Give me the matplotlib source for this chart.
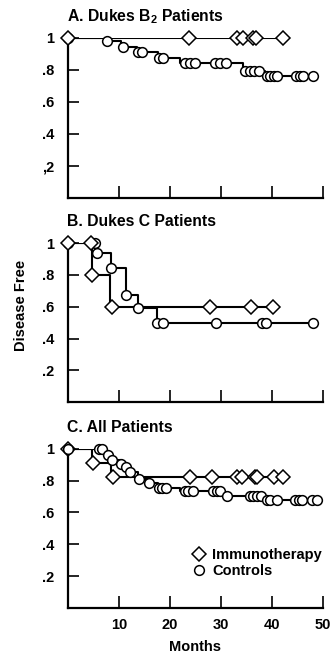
import matplotlib
matplotlib.use("Agg")
import matplotlib.pyplot as plt
from matplotlib.lines import Line2D
import numpy as np

plt.rcParams['font.family'] = ['Liberation Sans', 'DejaVu Sans']
plt.rcParams['mathtext.default'] = 'regular'

# A. Dukes B2
a_imm_drops = []
a_imm_levels = []
a_imm_marks = [0, 23.7, 33.1, 34.3, 36.3, 36.9, 42.2]
a_ctl_drops = [7.5, 10.5, 13.6, 17.6, 22.0, 34.4, 38.7]
a_ctl_levels = [0.98, 0.946, 0.91, 0.873, 0.842, 0.796, 0.765]
a_ctl_marks = [0, 7.6, 10.7, 13.8, 14.6, 17.9, 18.6, 22.9, 23.9, 24.9, 28.8, 29.8, 31.0,
               34.7, 35.7, 36.5, 37.5, 39.0, 39.7, 40.4, 41.0, 44.8, 45.5, 46.1, 48.1]

# B. Dukes C
b_imm_drops = [4.7, 8.3]
b_imm_levels = [0.8, 0.6]
b_imm_marks = [0, 4.5, 4.8, 8.6, 27.8, 35.8, 40.1]
b_ctl_drops = [5.6, 8.4, 11.3, 13.8, 17.5]
b_ctl_levels = [0.935, 0.84, 0.673, 0.59, 0.50]
b_ctl_marks = [0, 5.3, 5.75, 8.4, 11.3, 13.8, 17.5, 18.6, 29.0, 38.0, 38.9, 48.1]

# C. All
c_imm_drops = [4.8, 8.5]
c_imm_levels = [0.91, 0.822]
c_imm_marks = [0, 4.9, 8.8, 24.0, 28.2, 33.2, 34.2, 36.7, 37.1, 40.3, 42.2]
c_ctl_drops = [7.6, 8.6, 10.4, 11.2, 12.1, 13.8, 15.6, 17.6, 22.0, 30.8, 38.7]
c_ctl_levels = [0.962, 0.931, 0.906, 0.885, 0.853, 0.81, 0.785, 0.75, 0.732, 0.704, 0.675]
c_ctl_marks = [0, 6.1, 6.6, 7.9, 8.7, 10.5, 11.3, 12.2, 14.0, 15.9, 17.9, 18.5, 19.2,
               22.9, 23.6, 24.6, 28.5, 29.3, 29.9, 31.1, 35.7, 36.3, 37.0, 37.8,
               39.0, 39.7, 40.9, 44.5, 45.2, 45.8, 47.8, 48.8]

titles = ["A. Dukes $B_2$ Patients", "B. Dukes C Patients", "C. All Patients"]
yticks = [0.2, 0.4, 0.6, 0.8, 1.0]
a_ylabels = [",2", ".4", ".6", ".8", "1"]
ylabels = [".2", ".4", ".6", ".8", "1"]
xticks = [10, 20, 30, 40, 50]

CIRC = 7.0
DIAM = 6.8


def draw_curve(ax, drops, levels, marks, marker, ms, top):
    t = [0] + drops + [max(marks)]
    s = [1.0] + levels + [levels[-1] if levels else 1.0]
    ax.step(t, s, where='post', color='black', lw=1.5, zorder=2)
    lv = np.array([1.0] + levels)
    idx = np.searchsorted(np.array(drops), np.array(marks), side='right') if drops else np.zeros(len(marks), int)
    ax.plot(marks, lv[idx], ls='none', marker=marker, ms=ms, mfc='white', mec='black',
            mew=1.1, zorder=top, clip_on=False)


def panel(ax, title, imm, ctl, ylab, show_x, imm_top):
    draw_curve(ax, *ctl, 'o', CIRC, 4 if imm_top else 5)
    draw_curve(ax, *imm, 'D', DIAM, 5 if imm_top else 4)
    ax.set_xlim(0, 50)
    ax.set_ylim(0, 1)
    for sp in ['top', 'right']:
        ax.spines[sp].set_visible(False)
    for sp in ['left', 'bottom']:
        ax.spines[sp].set_linewidth(1.6)
    ax.set_yticks(yticks)
    ax.set_yticklabels(ylab, fontsize=10.5, fontweight='bold')
    ax.set_xticks(xticks)
    if show_x:
        ax.set_xticklabels([str(x) for x in xticks], fontsize=10.5, fontweight='bold')
    else:
        ax.set_xticklabels([])
    ax.tick_params(axis='y', direction='in', length=8, width=1.2, pad=10)
    ax.tick_params(axis='x', direction='in', length=9, width=1.2, pad=7)
    ax.text(-0.005, 1.105, title, transform=ax.transAxes, fontsize=11.3,
            fontweight='bold', ha='left', va='baseline')


fig = plt.figure(figsize=(3.33, 6.55), dpi=100)
ax_a = fig.add_axes([0.204, 0.698, 0.766, 0.244])
ax_b = fig.add_axes([0.204, 0.386, 0.766, 0.243])
ax_c = fig.add_axes([0.204, 0.072, 0.766, 0.243])

panel(ax_a, titles[0], (a_imm_drops, a_imm_levels, a_imm_marks),
      (a_ctl_drops, a_ctl_levels, a_ctl_marks), a_ylabels, False, True)
panel(ax_b, titles[1], (b_imm_drops, b_imm_levels, b_imm_marks),
      (b_ctl_drops, b_ctl_levels, b_ctl_marks), ylabels, False, True)
panel(ax_c, titles[2], (c_imm_drops, c_imm_levels, c_imm_marks),
      (c_ctl_drops, c_ctl_levels, c_ctl_marks), ylabels, True, False)

ax_b.set_ylabel("Disease Free", fontsize=10.5, fontweight='bold')
ax_b.yaxis.set_label_coords(-0.155, 0.61)
ax_c.set_xlabel("Months", fontsize=10.5, fontweight='bold', labelpad=6)

handles = [Line2D([], [], ls='none', marker='D', ms=DIAM, mfc='white', mec='black', mew=1.1),
           Line2D([], [], ls='none', marker='o', ms=CIRC, mfc='white', mec='black', mew=1.1)]
ax_c.legend(handles, ["Immunotherapy", "Controls"], loc='center left',
            bbox_to_anchor=(0.455, 0.283), frameon=False, handlelength=1.0,
            handletextpad=0.45, labelspacing=0.12, borderpad=0,
            prop={'size': 10.5, 'weight': 'bold'})

fig.savefig("out.png", dpi=100)
